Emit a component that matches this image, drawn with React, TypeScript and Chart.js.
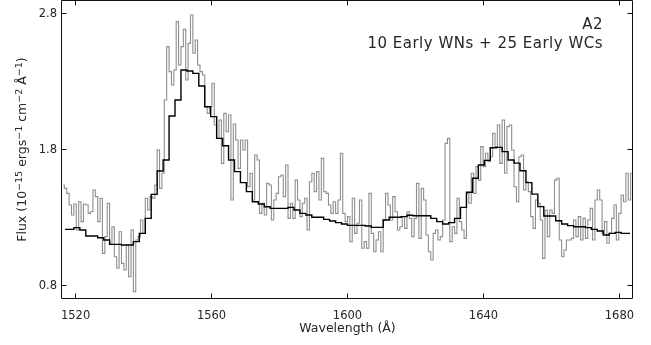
import React, { useEffect, useRef } from "react";
import { Chart, registerables } from "chart.js";

Chart.register(...registerables);

// Observed composite spectrum, uniform bins starting at OBS_START (Å)
const OBS_START = 1516;
const OBS_BIN = 0.7;
const observedFlux = [
  // 1516 – 1549.6
  1.539, 1.514, 1.477, 1.392, 1.318, 1.399, 1.208, 1.416, 1.269, 1.399,
  1.392, 1.330, 1.342, 1.502, 1.453, 1.269, 1.441, 1.036, 1.159, 1.404,
  1.110, 1.232, 1.011, 0.926, 1.195, 0.962, 0.913, 1.097, 0.864, 1.208,
  0.754, 1.134, 1.159, 1.281, 1.183, 1.441, 1.355, 1.453, 1.441, 1.539,
  1.796, 1.514, 1.625, 2.164, 2.557, 2.373, 2.275, 2.385,
  // 1549.6 – 1583.2
  2.741, 2.422, 2.557, 2.684, 2.311, 2.581, 2.790, 2.508, 2.606, 2.422,
  2.373, 2.348, 2.115, 2.066, 2.115, 2.287, 1.980, 1.882, 2.017, 1.698,
  2.066, 1.931, 2.054, 1.428, 1.988, 1.870, 1.661, 1.870, 1.796, 1.870,
  1.526, 1.625, 1.428, 1.759, 1.723, 1.330, 1.404, 1.318, 1.551, 1.539,
  1.281, 1.428, 1.477, 1.600, 1.612, 1.453, 1.686, 1.293,
  // 1583.2 – 1616.8
  1.404, 1.293, 1.575, 1.428, 1.306, 1.404, 1.441, 1.208, 1.563, 1.625,
  1.490, 1.637, 1.428, 1.735, 1.490, 1.477, 1.392, 1.330, 1.416, 1.330,
  1.428, 1.772, 1.330, 1.269, 1.306, 1.122, 1.441, 1.183, 1.257, 1.428,
  1.073, 1.122, 1.073, 1.477, 1.183, 1.048, 1.134, 1.195, 1.048, 1.281,
  1.477, 1.392, 1.281, 1.453, 1.342, 1.208, 1.232, 1.306,
  // 1616.8 – 1650.4
  1.220, 1.342, 1.293, 1.159, 1.293, 1.551, 1.146, 1.514, 1.428, 1.171,
  1.048, 0.987, 1.183, 1.208, 1.134, 1.159, 1.281, 1.845, 1.882, 1.122,
  1.232, 1.183, 1.441, 1.269, 1.208, 1.146, 1.477, 1.404, 1.625, 1.477,
  1.674, 1.575, 1.821, 1.674, 1.772, 1.710, 1.747, 1.919, 1.821, 1.980,
  1.698, 2.017, 1.625, 1.968, 1.980, 1.796, 1.526, 1.416,
  // 1650.4 – 1684
  1.747, 1.759, 1.502, 1.563, 1.490, 1.306, 1.220, 1.428, 1.404, 1.281,
  0.999, 1.355, 1.159, 1.355, 1.330, 1.575, 1.588, 1.134, 1.011, 1.060,
  1.134, 1.134, 1.146, 1.281, 1.159, 1.306, 1.134, 1.293, 1.146, 1.281,
  1.367, 1.134, 1.428, 1.502, 1.428, 1.183, 1.269, 1.110, 1.183, 1.293,
  1.392, 1.134, 1.330, 1.465, 1.416, 1.625, 1.428, 1.625,
];

// Averaged template spectrum, coarser uniform bins
const MODEL_START = 1516;
const MODEL_BIN = 1.75;
const templateFlux = [
  1.212, 1.212, 1.225, 1.208, 1.163, 1.163, 1.151, 1.134, 1.102, 1.102,
  1.097, 1.097, 1.122, 1.183, 1.293, 1.470, 1.642, 1.723, 2.046, 2.164,
  2.385, 2.378, 2.360, 2.267, 2.115, 2.042, 1.882, 1.828, 1.723, 1.637,
  1.556, 1.490, 1.416, 1.399, 1.379, 1.367, 1.367, 1.367, 1.374, 1.355,
  1.330, 1.318, 1.301, 1.301, 1.286, 1.274, 1.262, 1.252, 1.242, 1.242,
  1.242, 1.237, 1.227, 1.227, 1.281, 1.301, 1.301, 1.306, 1.316, 1.313,
  1.313, 1.313, 1.293, 1.269, 1.252, 1.262, 1.293, 1.374, 1.485, 1.588,
  1.686, 1.720, 1.813, 1.816, 1.784, 1.723, 1.700, 1.644, 1.556, 1.472,
  1.380, 1.311, 1.311, 1.276, 1.252, 1.240, 1.232, 1.232, 1.225, 1.212,
  1.200, 1.171, 1.183, 1.190, 1.183, 1.183,
];

const X_MIN = 1516;
const X_MAX = 1684;
const Y_MIN = 0.7;
const Y_MAX = 2.9;
const xTickValues = [1520, 1560, 1600, 1640, 1680];
const xTickLabels = ["1520", "1560", "1600", "1640", "1680"];
const yTickValues = [0.8, 1.8, 2.8];
const yTickLabels = ["0.8", "1.8", "2.8"];

const xTitle = "Wavelength (Å)";
// [text, isSuperscript]
const yTitleParts: [string, boolean][] = [
  ["Flux (10", false],
  ["−15", true],
  [" ergs", false],
  ["−1", true],
  [" cm", false],
  ["−2", true],
  [" Å", false],
  ["−1", true],
  [")", false],
];
const panelLabels = ["A2", "10 Early WNs + 25 Early WCs"];

const FONT = "'DejaVu Sans', sans-serif";
const INK = "#111111";
const TEXT_INK = "#262626";
const OBS_COLOR = "#8e8e8e";
const TEMPLATE_COLOR = "#000000";

const toPoints = (values: number[], start: number, bin: number) =>
  values.map((v, i) => ({ x: start + (i + 0.5) * bin, y: v }));

const framePlugin = {
  id: "frame",
  afterDraw(chart: any) {
    const { ctx, chartArea } = chart;
    const { left, right, top, bottom } = chartArea;
    const xs = chart.scales.x;
    const ys = chart.scales.y;
    ctx.save();

    // plot box
    ctx.strokeStyle = INK;
    ctx.lineWidth = 1;
    ctx.beginPath();
    ctx.moveTo(left - 0.5, top + 0.5);
    ctx.lineTo(right - 0.5, top + 0.5);
    ctx.lineTo(right - 0.5, bottom - 0.5);
    ctx.lineTo(left - 0.5, bottom - 0.5);
    ctx.closePath();
    ctx.stroke();

    // inward tick marks on all four sides
    const TL = 5;
    ctx.beginPath();
    xs.ticks.forEach((t: any) => {
      const px = Math.floor(xs.getPixelForValue(t.value)) + 0.5;
      ctx.moveTo(px, bottom - 0.5);
      ctx.lineTo(px, bottom - 0.5 - TL);
      ctx.moveTo(px, top + 0.5);
      ctx.lineTo(px, top + 0.5 + TL);
    });
    ys.ticks.forEach((t: any) => {
      const py = Math.floor(ys.getPixelForValue(t.value)) + 0.5;
      ctx.moveTo(left - 0.5, py);
      ctx.lineTo(left - 0.5 + TL, py);
      ctx.moveTo(right - 0.5, py);
      ctx.lineTo(right - 0.5 - TL, py);
    });
    ctx.stroke();

    // tick labels
    ctx.fillStyle = TEXT_INK;
    ctx.font = `11.5px ${FONT}`;
    ctx.textAlign = "center";
    ctx.textBaseline = "alphabetic";
    xs.ticks.forEach((t: any, i: number) => {
      ctx.fillText(xTickLabels[i] ?? String(t.value), xs.getPixelForValue(t.value), bottom + 20);
    });
    ctx.textAlign = "right";
    ctx.textBaseline = "middle";
    ys.ticks.forEach((t: any, i: number) => {
      ctx.fillText(yTickLabels[i] ?? String(t.value), left - 5, ys.getPixelForValue(t.value) + 0.5);
    });

    // x title
    ctx.font = `12.5px ${FONT}`;
    ctx.textAlign = "center";
    ctx.textBaseline = "alphabetic";
    ctx.fillText(xTitle, (left + right) / 2, bottom + 33);

    // y title with superscripts, reading upward
    const mainFont = `12.5px ${FONT}`;
    const supFont = `9.5px ${FONT}`;
    let total = 0;
    const widths = yTitleParts.map(([s, sup]) => {
      ctx.font = sup ? supFont : mainFont;
      const w = ctx.measureText(s).width;
      total += w;
      return w;
    });
    ctx.save();
    ctx.translate(21.5, (top + bottom) / 2);
    ctx.rotate(-Math.PI / 2);
    ctx.textAlign = "left";
    ctx.textBaseline = "alphabetic";
    let cx = -total / 2;
    yTitleParts.forEach(([s, sup], i) => {
      ctx.font = sup ? supFont : mainFont;
      ctx.fillText(s, cx, sup ? 0 : 4.5);
      cx += widths[i];
    });
    ctx.restore();

    // panel annotation
    ctx.font = `15px ${FONT}`;
    ctx.textAlign = "right";
    ctx.textBaseline = "alphabetic";
    (ctx as any).letterSpacing = "0.5px";
    ctx.fillText(panelLabels[0], right - 30, 28.5);
    ctx.fillText(panelLabels[1], right - 30, 47.5);
    (ctx as any).letterSpacing = "0px";

    ctx.restore();
  },
};

export default function App() {
  const canvasRef = useRef<HTMLCanvasElement | null>(null);

  useEffect(() => {
    const canvas = canvasRef.current;
    if (!canvas) return;
    const chart = new Chart(canvas, {
      type: "line",
      data: {
        datasets: [
          {
            label: "template",
            data: toPoints(templateFlux, MODEL_START, MODEL_BIN),
            borderColor: TEMPLATE_COLOR,
            borderWidth: 1.4,
            stepped: "middle",
            pointRadius: 0,
            fill: false,
            order: 0,
          },
          {
            label: "observed",
            data: toPoints(observedFlux, OBS_START, OBS_BIN),
            borderColor: OBS_COLOR,
            borderWidth: 1.1,
            stepped: "middle",
            pointRadius: 0,
            fill: false,
            order: 1,
          },
        ],
      },
      options: {
        responsive: false,
        animation: false,
        events: [],
        layout: { padding: { left: 0, right: 18, top: 0, bottom: 0 } },
        plugins: {
          legend: { display: false },
          tooltip: { enabled: false },
          title: { display: false },
        },
        scales: {
          x: {
            type: "linear",
            min: X_MIN,
            max: X_MAX,
            grid: { display: false, drawTicks: false },
            border: { display: false },
            ticks: { display: false },
            afterBuildTicks: (scale: any) => {
              scale.ticks = xTickValues.map((v) => ({ value: v }));
            },
            afterFit: (scale: any) => {
              scale.height = 46;
            },
          },
          y: {
            type: "linear",
            min: Y_MIN,
            max: Y_MAX,
            grid: { display: false, drawTicks: false },
            border: { display: false },
            ticks: { display: false },
            afterBuildTicks: (scale: any) => {
              scale.ticks = yTickValues.map((v) => ({ value: v }));
            },
            afterFit: (scale: any) => {
              scale.width = 62;
            },
          },
        },
      },
      plugins: [framePlugin],
    });
    return () => chart.destroy();
  }, []);

  return (
    <div style={{ position: "absolute", left: 0, top: 0, width: 651, height: 345, background: "#fff" }}>
      <canvas ref={canvasRef} width={651} height={345} />
    </div>
  );
}
